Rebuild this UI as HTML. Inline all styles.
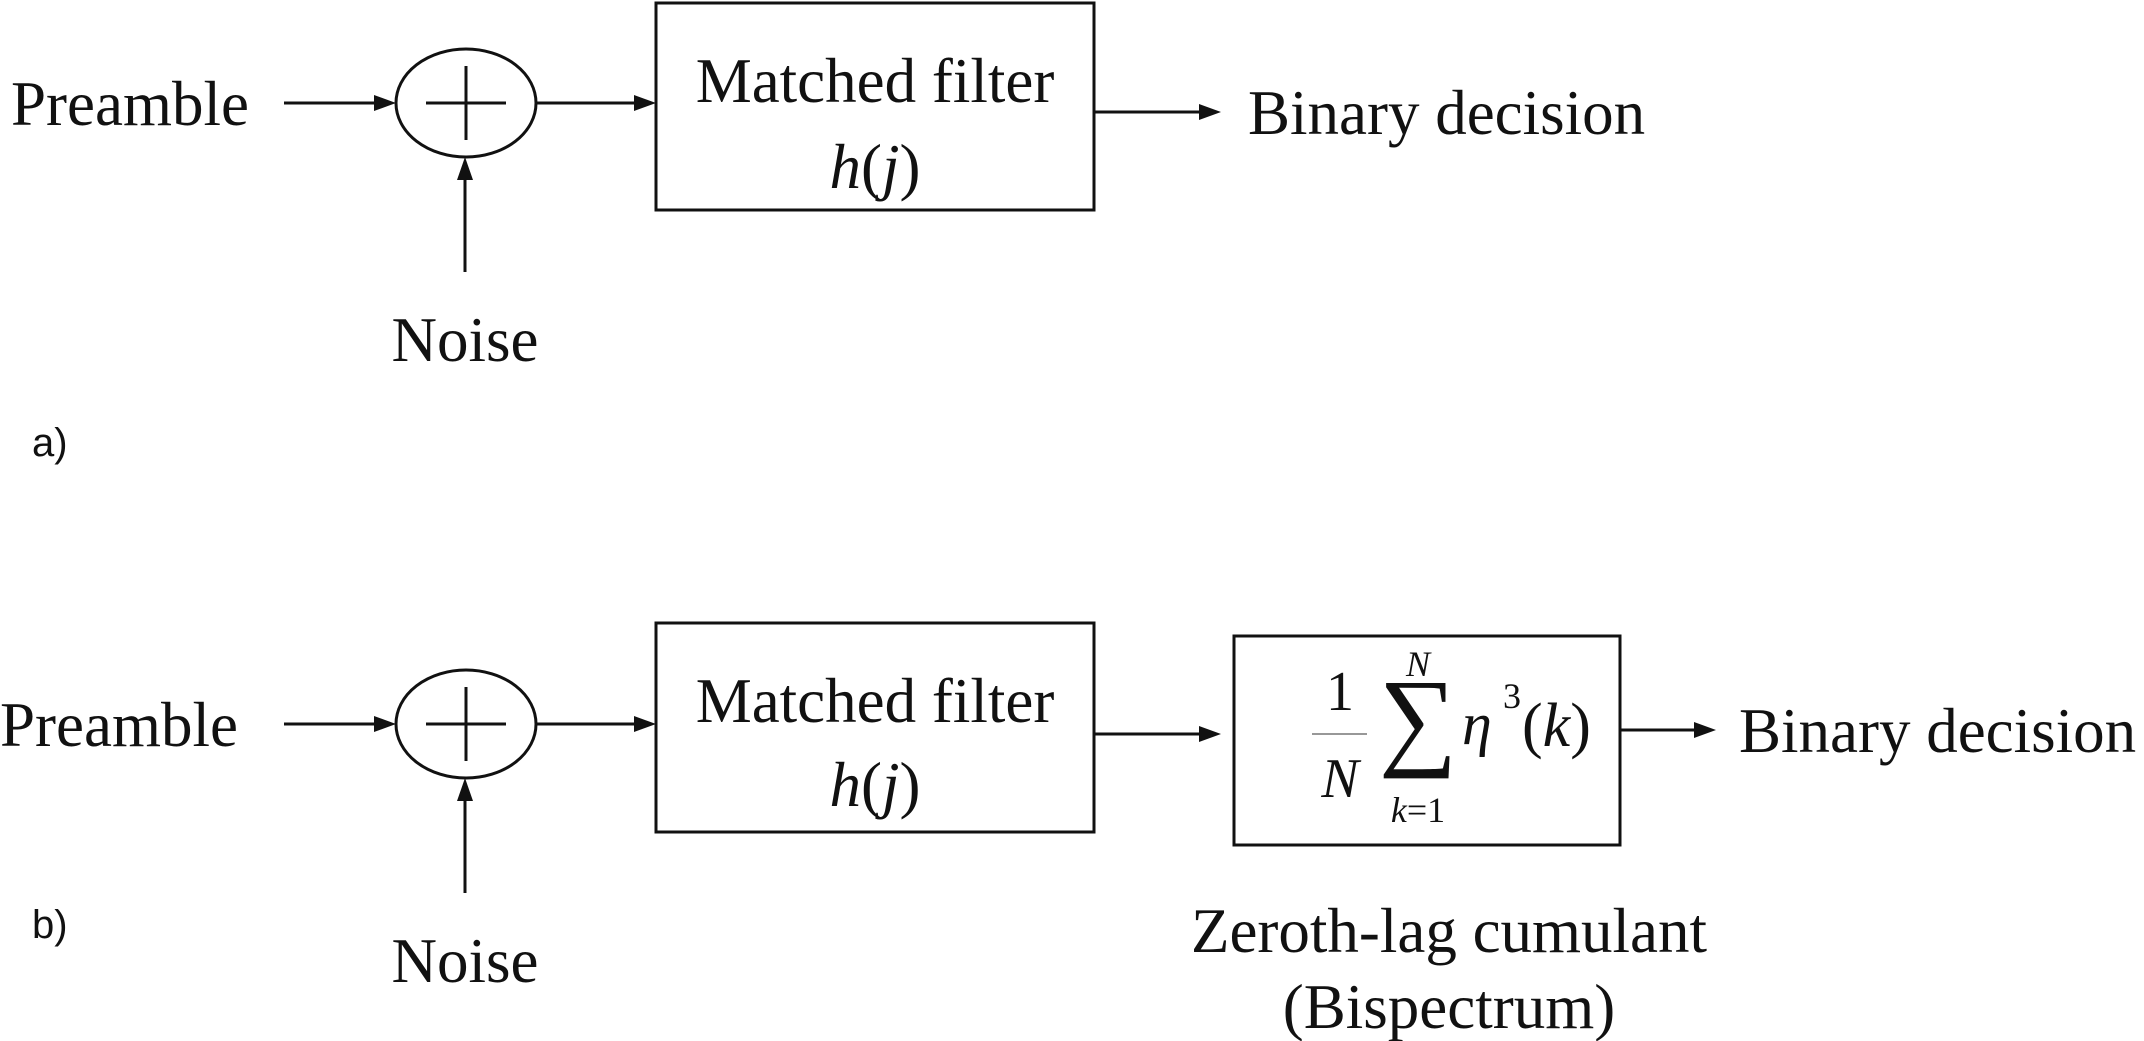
<!DOCTYPE html>
<html><head><meta charset="utf-8"><style>
html,body{margin:0;padding:0;background:#fff;}
svg{display:block;}
text{font-family:"Liberation Serif",serif;fill:#111;}
.s{font-family:"Liberation Sans",sans-serif;}
</style></head><body>
<svg width="2144" height="1041" viewBox="0 0 2144 1041" xmlns="http://www.w3.org/2000/svg">
<g stroke="#111" stroke-width="3" fill="none">
<!-- a -->
<line x1="284" y1="103" x2="376" y2="103"/>
<ellipse cx="466" cy="103" rx="70" ry="54"/>
<line x1="426" y1="103" x2="506" y2="103"/>
<line x1="466" y1="66" x2="466" y2="140"/>
<line x1="536" y1="103" x2="634" y2="103"/>
<rect x="656" y="3" width="438" height="207"/>
<line x1="1094" y1="112" x2="1200" y2="112"/>
<line x1="465" y1="272" x2="465" y2="178"/>
<!-- b -->
<line x1="284" y1="724" x2="376" y2="724"/>
<ellipse cx="466" cy="724" rx="70" ry="54"/>
<line x1="426" y1="724" x2="506" y2="724"/>
<line x1="466" y1="687" x2="466" y2="761"/>
<line x1="536" y1="724" x2="634" y2="724"/>
<rect x="656" y="623" width="438" height="209"/>
<line x1="1094" y1="734" x2="1200" y2="734"/>
<rect x="1234" y="636" width="386" height="209"/>
<line x1="1620" y1="730" x2="1696" y2="730"/>
<line x1="465" y1="893" x2="465" y2="799"/>
<line x1="1312" y1="734" x2="1367" y2="734" stroke-width="1.5" stroke="#777"/>
</g>
<g fill="#111">
<polygon points="396,103 374,95 374,111"/>
<polygon points="656,103 634,95 634,111"/>
<polygon points="1221,112 1199,104 1199,120"/>
<polygon points="465,157 457,180 473,180"/>
<polygon points="396,724 374,716 374,732"/>
<polygon points="656,724 634,716 634,732"/>
<polygon points="1221,734 1199,726 1199,742"/>
<polygon points="1716,730 1694,722 1694,738"/>
<polygon points="465,778 457,801 473,801"/>
</g>
<g font-size="63">
<text x="11" y="125">Preamble</text>
<text x="875" y="102" text-anchor="middle">Matched filter</text>
<text x="875" y="188" text-anchor="middle"><tspan font-style="italic">h</tspan>(<tspan font-style="italic">j</tspan>)</text>
<text x="1248" y="134">Binary decision</text>
<text x="465" y="361" text-anchor="middle">Noise</text>

<text x="0" y="746">Preamble</text>
<text x="875" y="722" text-anchor="middle">Matched filter</text>
<text x="875" y="806" text-anchor="middle"><tspan font-style="italic">h</tspan>(<tspan font-style="italic">j</tspan>)</text>
<text x="1739" y="752">Binary decision</text>
<text x="465" y="982" text-anchor="middle">Noise</text>
<text x="1449" y="952" text-anchor="middle">Zeroth-lag cumulant</text>
<text x="1449" y="1028" text-anchor="middle">(Bispectrum)</text>
<!-- formula -->
<text x="1340" y="710" text-anchor="middle" font-size="56">1</text>
<text x="1340" y="797" text-anchor="middle" font-size="56" font-style="italic">N</text>
<text x="1418" y="755" text-anchor="middle" font-size="110">∑</text>
<text x="1418" y="676" text-anchor="middle" font-size="36" font-style="italic">N</text>
<text x="1418" y="822" text-anchor="middle" font-size="36"><tspan font-style="italic">k</tspan>=1</text>
<text x="1462" y="744" font-size="60" font-style="italic">η</text>
<text x="1503" y="708" font-size="36">3</text>
<text x="1522" y="746" font-size="62">(<tspan font-style="italic">k</tspan>)</text>
</g>
<text class="s" x="32" y="456" font-size="40">a)</text>
<text class="s" x="32" y="938" font-size="40">b)</text>
</svg>
</body></html>
